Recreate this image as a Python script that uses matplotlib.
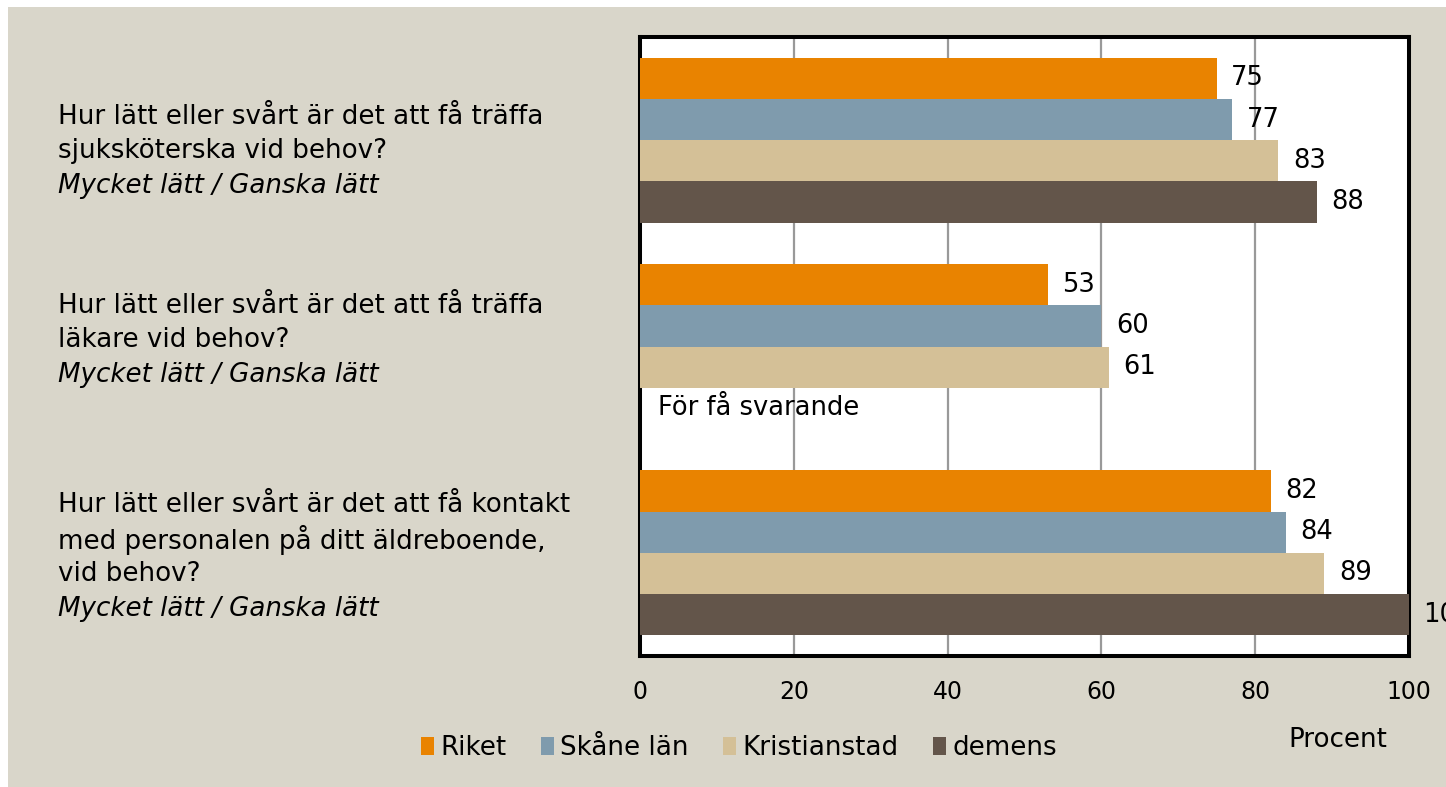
import matplotlib
matplotlib.use("Agg")
import matplotlib.pyplot as plt
import numpy as np
from matplotlib.patches import Rectangle

# ---- data ----
question_lines = [
    ["Hur lätt eller svårt är det att få träffa", "sjuksköterska vid behov?"],
    ["Hur lätt eller svårt är det att få träffa", "läkare vid behov?"],
    ["Hur lätt eller svårt är det att få kontakt", "med personalen på ditt äldreboende,", "vid behov?"],
]
answer_note = "Mycket lätt / Ganska lätt"
series = ["Riket", "Skåne län", "Kristianstad", "demens"]
riket = [75, 53, 82]
skane = [77, 60, 84]
kristianstad = [83, 61, 89]
demens = [88, np.nan, 100]
missing_note = "För få svarande"
xticks = [0, 20, 40, 60, 80, 100]
xlabel = "Procent"

colors = ["#E98300", "#7F9BAD", "#D4C097", "#63554A"]
bg = "#D9D6CA"
FONT = "DejaVu Sans"
fs_text = 18.8
fs_val = 18.5
fs_tick = 17

plt.rcParams['font.family'] = [FONT]

W, H = 1446, 787
fig = plt.figure(figsize=(W / 100, H / 100), dpi=100, facecolor='white')
fig.patches.append(Rectangle((8 / W, 0), 1, (H - 7) / H, transform=fig.transFigure,
                             facecolor=bg, edgecolor='none', zorder=-10))

def fx(px):
    return px / W

def fy(py):
    return 1 - py / H

ax = fig.add_axes([fx(640), fy(656), (1409 - 640) / W, (656 - 37) / H])
ax.set_facecolor('white')

ys = np.arange(len(question_lines))
h = 0.2
for i, (vals, c, name) in enumerate(zip([riket, skane, kristianstad, demens], colors, series)):
    pos = ys + (i - 1.5) * h
    ax.barh(pos, vals, height=h, color=c, label=name, zorder=3)
    for p, v in zip(pos, vals):
        if not np.isnan(v):
            ax.text(v + 1.9, p, f"{v:g}", va='center', ha='left', fontsize=fs_val,
                    clip_on=False, zorder=4)

ax.text(2.3, 1 + 1.5 * h, missing_note, va='center', ha='left', fontsize=fs_val, zorder=4)

ax.set_xlim(0, 100)
ax.set_ylim(len(question_lines) - 0.5, -0.5)
ax.set_xticks(xticks)
ax.set_yticks([])
ax.grid(axis='x', color='#999999', lw=1.6, zorder=1)
ax.set_axisbelow(True)
ax.tick_params(axis='x', length=0, pad=17, labelsize=fs_tick)
for s in ax.spines.values():
    s.set_linewidth(2.9)
    s.set_color('black')
    s.set_zorder(2.5)

# question labels
first_line_y = [117, 306, 505]
spacing = 34.5
for lines, y0 in zip(question_lines, first_line_y):
    for k, ln in enumerate(lines + [answer_note]):
        style = 'italic' if k == len(lines) else 'normal'
        fig.text(fx(58), fy(y0 + k * spacing), ln, va='center', ha='left',
                 fontsize=fs_text, fontstyle=style)

fig.text(fx(1338), fy(740), xlabel, va='center', ha='center', fontsize=fs_text)

fig.legend(loc='center', bbox_to_anchor=(fx(739), fy(748)), ncol=4, frameon=False,
           fontsize=fs_text, handlelength=0.5, handleheight=0.7, handletextpad=0.25,
           columnspacing=1.3)

fig.savefig("out.png", dpi=100, facecolor=fig.get_facecolor())
